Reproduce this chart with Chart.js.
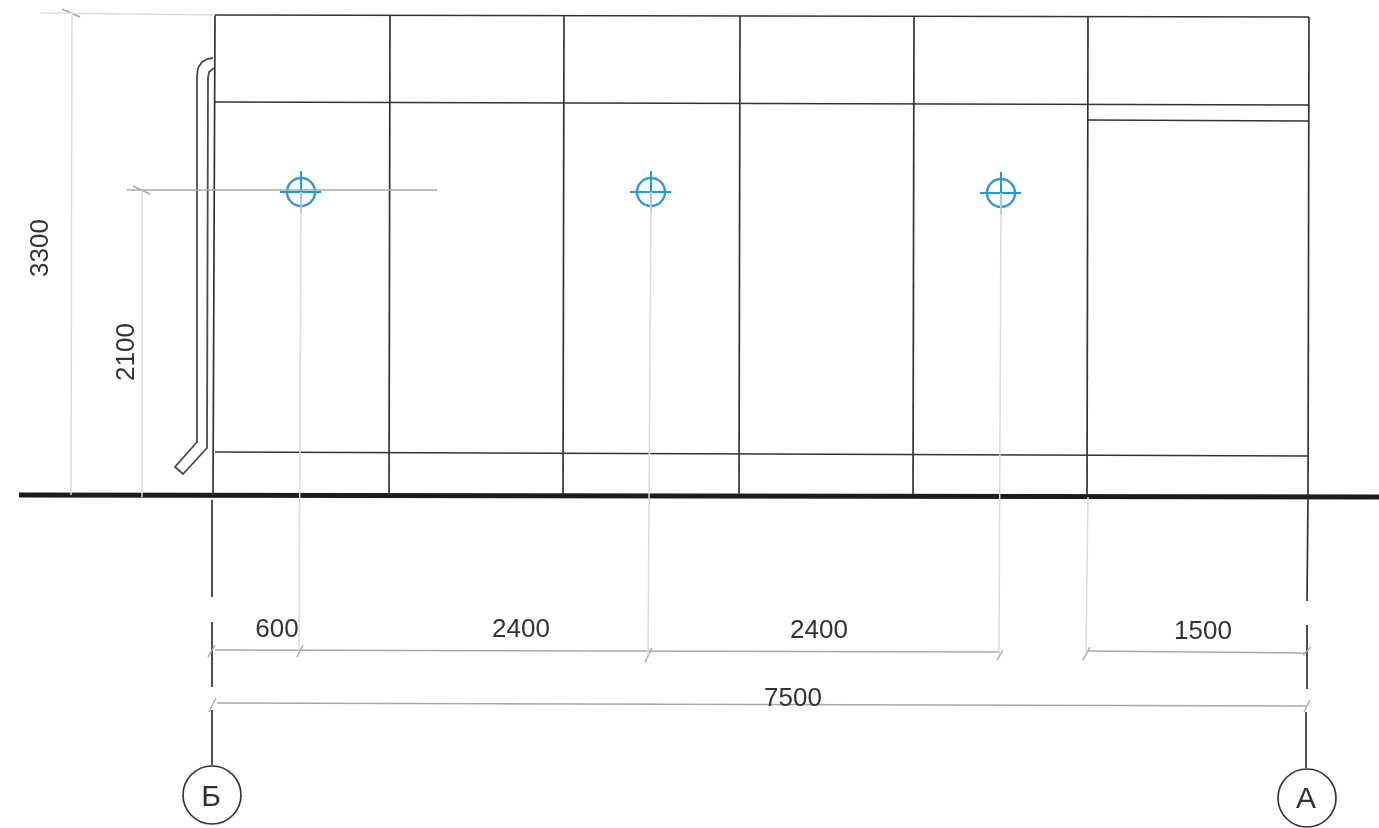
<!DOCTYPE html>
<html><head><meta charset="utf-8">
<style>html,body{margin:0;padding:0;background:#fff;overflow:hidden}canvas{display:block}</style>
<script src="https://cdn.jsdelivr.net/npm/chart.js@4"></script>
</head><body><canvas id="c" width="1379" height="828"></canvas>
<script>
// Drawing, in picture units: each line is x1,y1,x2,y2,...
const wallLines = [
  [215,15,1309,17],[215,102,1309,105],[1088,120,1309,121],[215,452,1308,456],
  [215,15,213,495],[390,15,389,495],[564,15,563,495],[740,16,739,495],[914,16,913,495],[1088,16,1087,495],[1309,17,1308,496]
];
const axisLines = [
  [212,500,212,597],[212,622,212,687],[212,710,212,765],
  [1308,498,1307,601],[1307,625,1307,689],[1306,712,1306,768]
];
const groundLine = [19,495,1379,497];
const pipeLines = [
  [213,58,207,59,202,62,198,68,197,76,197,442,175,467,183,474,207,448,208,78,209,72,214,68]
];
const dimLines = [
  [215,650,1000,652],[1088,651,1306,653],[217,703,1306,706],[127,190,437,190]
];
const tickLines = [
  [62,9,80,17],[133,186,150,194],
  [208,657,215,645],[297,657,303,645],[645,662,652,648],[997,660,1003,650],[1083,660,1090,647],[1303,655,1311,647],
  [209,712,216,698],[1304,712,1310,700]
];
const leaderLines = [
  [40,13,215,15],[72,15,71,495],[142,190,142,497],
  [301,192,299,650],[651,192,648,655],[1001,193,999,655],[1088,497,1086,652]
];
const targetX = [301,651,1001];
const targetY = [192,192,193];
const bubbleX = [212,1307];
const bubbleY = [795,798];
const labelText = ["600","2400","2400","1500","7500","3300","2100","Б","А"];
const labelX = [277,521,819,1203,793,41,127,211,1306];
const labelY = [630,630,631,632,699,248,352,798,800];
const labelAngle = [0,0,0,0,0,-90,-90,0,0];
const labelSize = [26,26,26,26,26,26,26,30,30];

const INK='#333333', BLUE='#1f9ad6';
function toPoints(a){const p=[];for(let i=0;i<a.length;i+=2)p.push({x:a[i],y:a[i+1]});return p;}
function line(a,color,width){return {type:'scatter',showLine:true,data:toPoints(a),borderColor:color,borderWidth:width,pointRadius:0,fill:false,tension:0,clip:false};}
const datasets=[];
leaderLines.forEach(a=>datasets.push(line(a,'#dcdcdc',1.5)));
dimLines.forEach(a=>datasets.push(line(a,'#a8a8a8',1.5)));
tickLines.forEach(a=>datasets.push(line(a,'#a8a8a8',1.4)));
wallLines.forEach(a=>datasets.push(line(a,INK,1.7)));
axisLines.forEach(a=>datasets.push(line(a,INK,1.7)));
pipeLines.forEach(a=>datasets.push(line(a,'#4a4a4a',1.8)));
datasets.push(line(groundLine,'#1c1c1c',5));
targetX.forEach((x,i)=>{
  const y=targetY[i];
  datasets.push(line([x-21,y,x+20,y],BLUE,2));
  datasets.push(line([x,y-21,x,y+21],BLUE,2));
});
datasets.push({type:'scatter',data:targetX.map((x,i)=>({x,y:targetY[i]})),showLine:false,pointRadius:14,pointBorderWidth:2.4,pointBorderColor:'#3c96cf',pointBackgroundColor:'rgba(0,0,0,0)',clip:false});
datasets.push({type:'scatter',data:bubbleX.map((x,i)=>({x,y:bubbleY[i]})),showLine:false,pointRadius:29,pointBorderWidth:1.7,pointBorderColor:INK,pointBackgroundColor:'#fff',clip:false});

const labels={id:'labels',afterDatasetsDraw(ch){
  const g=ch.ctx,sx=ch.scales.x,sy=ch.scales.y;
  labelText.forEach((t,i)=>{
    g.save();
    g.translate(sx.getPixelForValue(labelX[i]),sy.getPixelForValue(labelY[i]));
    g.rotate(labelAngle[i]*Math.PI/180);
    g.font=labelSize[i]+'px "Liberation Sans"';
    g.fillStyle='#333';g.textAlign='center';g.textBaseline='middle';
    g.fillText(t,0,0);
    g.restore();
  });
}};
new Chart(document.getElementById('c'),{
  type:'scatter',
  data:{datasets},
  options:{responsive:false,animation:false,events:[],
    layout:{padding:0,autoPadding:false},
    plugins:{legend:{display:false},tooltip:{enabled:false},title:{display:false}},
    scales:{
      x:{type:'linear',min:0,max:1379,display:false},
      y:{type:'linear',min:0,max:828,reverse:true,display:false}
    }
  },
  plugins:[labels]
});
</script></body></html>
